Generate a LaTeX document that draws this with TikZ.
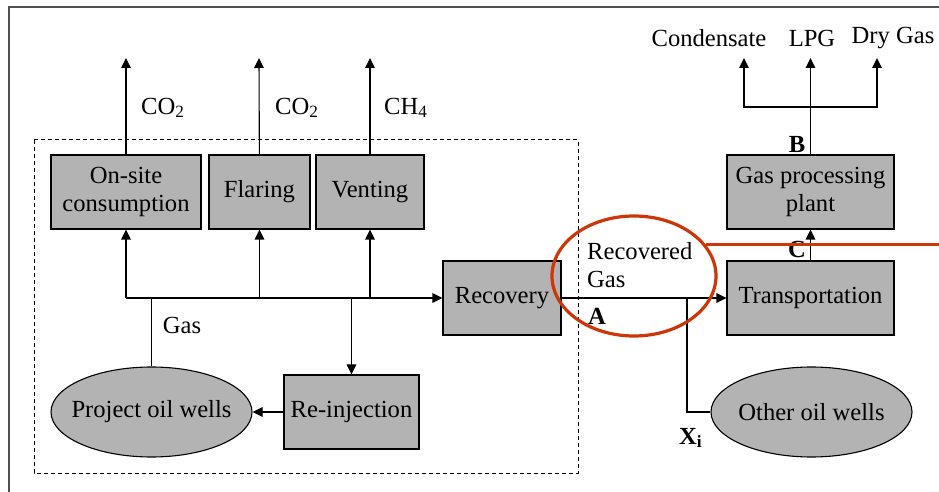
\documentclass[tikz,border=0pt]{standalone}
\usepackage{fontspec}
\setmainfont{Liberation Serif}
\usetikzlibrary{arrows.meta, positioning, shapes.geometric}
\definecolor{boxgray}{RGB}{179,179,179}
\definecolor{markred}{RGB}{204,55,10}
\definecolor{framegray}{RGB}{80,80,80}
\newcommand{\welltext}[1]{\makebox[0pt]{#1}}

\begin{document}
\begin{tikzpicture}[x=0.5pt, y=-0.5pt, >={Triangle[length=5pt,width=4.8pt]},
    font=\fontsize{12.3}{14}\selectfont, line width=0.55pt,
    box/.style={draw, fill=boxgray, minimum height=37pt, inner sep=0pt, align=center},
    well/.style={draw, ellipse, fill=boxgray, minimum width=100.5pt, minimum height=45pt, inner sep=0pt},
    tag/.style={font=\fontsize{12.3}{14}\selectfont\bfseries}]
      \useasboundingbox (0,0) rectangle (939,492);
      \draw[framegray] (9,492) -- (9,7) -- (939,7);
      \draw[dash pattern=on 2pt off 1.5pt, line width=0.5pt] (34,140) rectangle (578,473);

      \node[box, minimum width=75pt] (onsite) at (126,192) {On-site\\consumption};
      \node[box, minimum width=50.5pt] (flaring) at (259.5,192) {Flaring};
      \node[box, minimum width=54pt] (venting) at (370,192) {Venting};
      \node[box, minimum width=59pt] (recovery) at (502,298) {Recovery};
      \node[box, minimum width=67.5pt] (reinj) at (351.5,412) {Re-injection};
      \node[well] (project) at (151.5,412) {\welltext{Project oil wells}};
      \node[box, minimum width=83.5pt] (transport) at (810.5,298) {Transportation};
      \node[box, minimum width=83.5pt] (plant) at (810.5,192) {Gas processing\\plant};
      \node[well] (other) at (811.5,412) {\welltext{Other oil wells}};

      \coordinate (co2a) at (126,58);
      \coordinate (co2b) at (259,58);
      \coordinate (ch4) at (370,58);
      \coordinate (condtip) at (744,58);
      \coordinate (lpgtip) at (810.5,58);
      \coordinate (drytip) at (877,58);
      \coordinate (split) at (810.5,107);
      \coordinate (xi) at (687,412);

      \node[anchor=west] (co2alabel) at (134,108) {CO\textsubscript{2}};
      \node[anchor=west] (co2blabel) at (268,108) {CO\textsubscript{2}};
      \node[anchor=west] (ch4label) at (377,108) {CH\textsubscript{4}};
      \node (condlabel) at (709,38) {Condensate};
      \node (lpglabel) at (812,38) {LPG};
      \node (drylabel) at (893,38) {Dry Gas};
      \node (gaslabel) at (182,325) {Gas};
      \node[align=left, anchor=west] (recgas) at (580,265) {Recovered\\Gas};
      \node[tag] (taga) at (597,316) {A};
      \node[tag] (tagb) at (797,144) {B};
      \node[tag] (tagc) at (797,249) {C};
      \node[tag] (tagx) at (691,438) {X\textsubscript{i}};

      \draw[->] (onsite) -- (co2a);
      \draw[->] (flaring) -- (co2b);
      \draw[->] (venting) -- (ch4);
      \draw[->] (onsite.south |- recovery) -- (recovery);
      \draw[->] (onsite.south |- recovery) -- (onsite);
      \draw[->] (flaring.south |- recovery) -- (flaring);
      \draw[->] (venting.south |- recovery) -- (venting);
      \draw[->] (reinj.north |- recovery) -- (reinj);
      \draw (project) -- (project.north |- recovery);
      \draw[->] (reinj) -- (project);
      \draw[->] (recovery) -- (transport);
      \draw (xi |- transport) -- (xi) -- (other);
      \draw[->] (transport) -- (plant);
      \draw[->] (plant) -- (lpgtip);
      \draw[->] (split) -| (condtip);
      \draw[->] (split) -| (drytip);

      \node[draw=markred, line width=1.6pt, ellipse, minimum width=82pt, minimum height=60pt] (mark) at (634,276) {};
      \coordinate (markend) at (939,245);
      \draw[markred, line width=1.6pt] (mark.24) -- (mark.24 -| markend);
\end{tikzpicture}
\end{document}
